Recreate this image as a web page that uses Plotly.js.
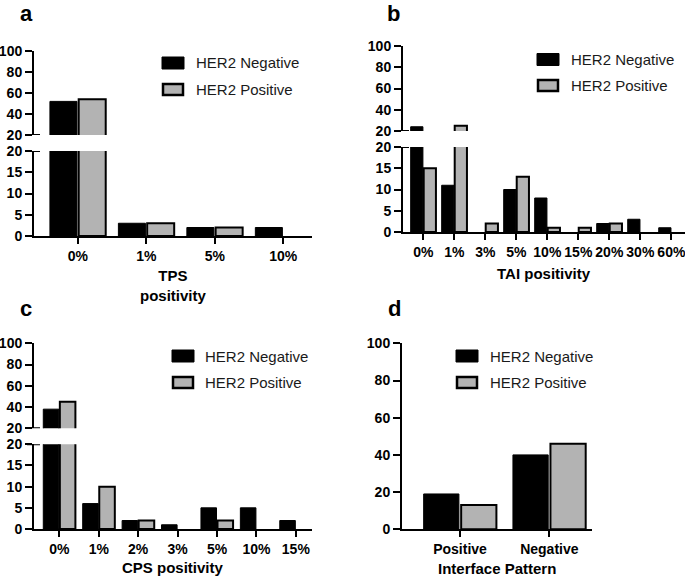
<!DOCTYPE html>
<html>
<head>
<meta charset="utf-8">
<script src="https://cdn.plot.ly/plotly-3.0.1.min.js"></script>
<style>html,body{margin:0;padding:0;background:#fff;}#chart{width:685px;height:577px;}</style>
</head>
<body>
<div id="chart"></div>
<script>
// ---- data ----
const seriesNames = ['HER2 Negative', 'HER2 Positive'];

const tpsCats = ['0%', '1%', '5%', '10%'];
const tpsNeg = [52, 3, 2, 2];
const tpsPos = [54, 3, 2, 0];

const taiCats = ['0%', '1%', '3%', '5%', '10%', '15%', '20%', '30%', '60%'];
const taiNeg = [24, 11, 0, 10, 8, 0, 2, 3, 1];
const taiPos = [15, 25, 2, 13, 1, 1, 2, 0, 0];

const cpsCats = ['0%', '1%', '2%', '3%', '5%', '10%', '15%'];
const cpsNeg = [38, 6, 2, 1, 5, 5, 2];
const cpsPos = [45, 10, 2, 0, 2, 0, 0];

const ipCats = ['Positive', 'Negative'];
const ipNeg = [19, 40];
const ipPos = [13, 46];

const lowerTicks = [0, 5, 10, 15, 20];
const upperTicks = [20, 40, 60, 80, 100];
const fullTicks = [0, 20, 40, 60, 80, 100];

const axisTitles = ['TPS<br>positivity', 'TAI positivity', 'CPS positivity', 'Interface Pattern'];
const panelLabels = ['a', 'b', 'c', 'd'];

// ---- helpers ----
const W = 685, H = 577;
const X = p => p / W, Y = p => 1 - p / H;
const FONT = 'Liberation Sans, Arial, Helvetica, sans-serif';
const GREY = '#b3b3b3';
const nz = arr => arr.map(v => (v === 0 ? null : v)); // zero counts draw no bar

function barPair(cats, neg, pos, xa, ya) {
  return [
    {type: 'bar', x: cats, y: nz(neg), xaxis: xa, yaxis: ya, name: seriesNames[0],
     marker: {color: '#000', line: {color: '#000', width: 1}}, showlegend: false, hoverinfo: 'x+y'},
    {type: 'bar', x: cats, y: nz(pos), xaxis: xa, yaxis: ya, name: seriesNames[1],
     marker: {color: GREY, line: {color: '#000', width: 2}}, showlegend: false, hoverinfo: 'x+y'}
  ];
}

function xAxis(domPx, range, anchor) {
  return {
    type: 'category', domain: [X(domPx[0]), X(domPx[1])], range: range, anchor: anchor,
    showline: true, linecolor: '#000', linewidth: 2, mirror: false,
    ticks: 'outside', ticklen: 6, tickwidth: 2, tickcolor: '#000',
    showgrid: false, zeroline: false,
    tickfont: {family: FONT, size: 14, color: '#000', weight: 'bold'}
  };
}

function yAxis(domPx, range, ticks, anchor) {
  return {
    domain: [Y(domPx[1]), Y(domPx[0])], range: range, anchor: anchor,
    tickmode: 'array', tickvals: ticks, ticktext: ticks.map(String),
    showline: true, linecolor: '#000', linewidth: 2,
    ticks: 'outside', ticklen: 7, tickwidth: 2, tickcolor: '#000',
    showgrid: false, zeroline: false,
    tickfont: {family: FONT, size: 14, color: '#000', weight: 'bold'}
  };
}

const data = [].concat(
  barPair(tpsCats, tpsNeg, tpsPos, 'x', 'y'),
  barPair(tpsCats, tpsNeg, tpsPos, 'x', 'y2'),
  barPair(taiCats, taiNeg, taiPos, 'x2', 'y3'),
  barPair(taiCats, taiNeg, taiPos, 'x2', 'y4'),
  barPair(cpsCats, cpsNeg, cpsPos, 'x3', 'y5'),
  barPair(cpsCats, cpsNeg, cpsPos, 'x3', 'y6'),
  barPair(ipCats, ipNeg, ipPos, 'x4', 'y7')
);

// break caps (short horizontal marks across the axis at the break)
const shapes = [];
function cap(axisPx, yref) {
  shapes.push({type: 'line', xref: 'paper', xsizemode: 'pixel', xanchor: X(axisPx),
    x0: -7, x1: 6, yref: yref, y0: 20, y1: 20, line: {color: '#000', width: 2}});
}
cap(34, 'y'); cap(34, 'y2');
cap(403, 'y3'); cap(403, 'y4');
cap(34, 'y5'); cap(34, 'y6');

// custom legends
const annotations = [];
function legend(boxX, y1, y2, textX) {
  shapes.push({type: 'rect', xref: 'paper', yref: 'paper', x0: X(boxX), x1: X(boxX + 22),
    y0: Y(y1 + 6), y1: Y(y1 - 6), fillcolor: '#000', line: {color: '#000', width: 1}});
  shapes.push({type: 'rect', xref: 'paper', yref: 'paper', x0: X(boxX + 1), x1: X(boxX + 21),
    y0: Y(y2 + 5.5), y1: Y(y2 - 5.5), fillcolor: GREY, line: {color: '#000', width: 2.5}});
  [[y1, seriesNames[0]], [y2, seriesNames[1]]].forEach(([yy, t]) => {
    annotations.push({xref: 'paper', yref: 'paper', x: X(textX), y: Y(yy), text: t,
      xanchor: 'left', yanchor: 'middle', showarrow: false,
      font: {family: FONT, size: 15, color: '#1a1a1a'}});
  });
}
legend(162, 63, 89.5, 194);
legend(537, 59.5, 85.5, 569);
legend(172, 356, 382.5, 203);
legend(456, 356, 382.5, 488);

// panel letters
function label(t, x, yTop) {
  annotations.push({xref: 'paper', yref: 'paper', x: X(x), y: Y(yTop), text: t,
    xanchor: 'center', yanchor: 'top', showarrow: false, borderpad: 0,
    font: {family: FONT, size: 22, color: '#000', weight: 'bold'}});
}
label(panelLabels[0], 26, 0);
label(panelLabels[1], 393, 0);
label(panelLabels[2], 26, 295);
label(panelLabels[3], 394, 295);

// axis titles centred under each x axis
function axTitle(t, x, y) {
  annotations.push({xref: 'paper', yref: 'paper', x: X(x), y: Y(y), text: t,
    xanchor: 'center', yanchor: 'middle', showarrow: false,
    font: {family: FONT, size: 15, color: '#000', weight: 'bold'}});
}
axTitle(axisTitles[0], 173, 285);
axTitle(axisTitles[1], 544, 273);
axTitle(axisTitles[2], 173, 567);
axTitle(axisTitles[3], 497, 568);

const layout = {
  width: W, height: H,
  margin: {l: 0, r: 0, t: 0, b: 0},
  paper_bgcolor: '#fff', plot_bgcolor: 'rgba(0,0,0,0)',
  showlegend: false, barmode: 'group', bargap: 0.16, bargroupgap: 0.06,
  font: {family: FONT, color: '#000'},
  xaxis: xAxis([34, 312], [-0.64, 3.42], 'y'),
  yaxis: yAxis([151, 236], [0, 20], lowerTicks, 'x'),
  yaxis2: yAxis([51, 135], [20, 100], upperTicks, 'x'),
  xaxis2: xAxis([403, 685], [-0.655, 8.44], 'y3'),
  yaxis3: yAxis([147, 232], [0, 20], lowerTicks, 'x2'),
  yaxis4: yAxis([46, 131], [20, 100], upperTicks, 'x2'),
  xaxis3: xAxis([34, 312], [-0.643, 6.41], 'y5'),
  yaxis5: yAxis([444.3, 529], [0, 20], lowerTicks, 'x3'),
  yaxis6: yAxis([343.3, 428.3], [20, 100], upperTicks, 'x3'),
  xaxis4: xAxis([402, 592], [-0.65, 1.478], 'y7'),
  yaxis7: yAxis([343.3, 529.3], [0, 100], fullTicks, 'x4'),
  shapes: shapes,
  annotations: annotations
};

Plotly.newPlot('chart', data, layout, {staticPlot: true, displayModeBar: false});
</script>
</body>
</html>
